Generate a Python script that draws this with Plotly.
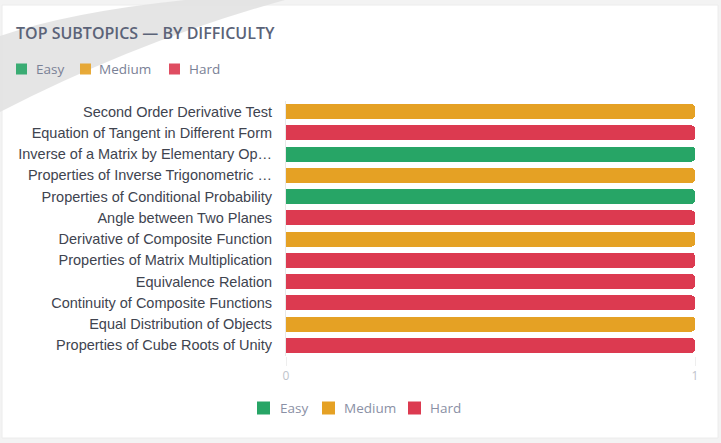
import plotly.graph_objects as go

# ---- data ----
subtopics = [
    "Second Order Derivative Test",
    "Equation of Tangent in Different Form",
    "Inverse of a Matrix by Elementary Op…",
    "Properties of Inverse Trigonometric …",
    "Properties of Conditional Probability",
    "Angle between Two Planes",
    "Derivative of Composite Function",
    "Properties of Matrix Multiplication",
    "Equivalence Relation",
    "Continuity of Composite Functions",
    "Equal Distribution of Objects",
    "Properties of Cube Roots of Unity",
]
difficulty = ["Medium", "Hard", "Easy", "Medium", "Easy", "Hard",
              "Medium", "Hard", "Hard", "Hard", "Medium", "Hard"]
counts = [1, 1, 1, 1, 1, 1, 1, 1, 1, 1, 1, 1]
levels = ["Easy", "Medium", "Hard"]
level_colors = {"Easy": "#27a566", "Medium": "#e5a124", "Hard": "#dc3a50"}
x_ticks = [0, 1]

W, H = 721, 443
L, R, T, B = 286, 26, 101, 87
PW, PH = W - L - R, H - T - B


def px(xp):
    return (xp - L) / PW


def py(yp):
    return (H - B - yp) / PH


fig = go.Figure()
for lvl in levels:
    ys = [s for s, d in zip(subtopics, difficulty) if d == lvl]
    xs = [c for c, d in zip(counts, difficulty) if d == lvl]
    fig.add_trace(go.Bar(
        y=ys, x=xs, name=lvl, orientation="h",
        marker=dict(color=level_colors[lvl], line=dict(width=0)),
        hoverinfo="y+x", showlegend=False,
    ))

shapes = []
# card
shapes.append(dict(type="rect", xref="paper", yref="paper", layer="below",
                   x0=px(2), x1=px(718), y0=py(5), y1=py(438),
                   fillcolor="white", line=dict(color="#ececec", width=1)))
# grey swoosh
sw = (f"M {px(185)},{py(0)} Q {px(70)},{py(12)} {px(0)},{py(36)} "
      f"L {px(0)},{py(112)} Q {px(140)},{py(40)} {px(285)},{py(0)} Z")
shapes.append(dict(type="path", xref="paper", yref="paper", layer="below",
                   path=sw, fillcolor="#e2e2e2", line=dict(width=0), opacity=0.9))

annotations = [dict(
    text="TOP SUBTOPICS — BY DIFFICULTY", xref="paper", yref="paper",
    x=px(14), y=py(33), xanchor="left", yanchor="middle", showarrow=False,
    font=dict(family="Open Sans", size=16, color="#5b6378", weight=600),
)]

# top legend (HTML-like)
top_leg = [("Easy", 16, 34), ("Medium", 80, 97), ("Hard", 169, 187)]
for lvl, sx, tx in top_leg:
    shapes.append(dict(type="rect", xref="paper", yref="paper",
                       x0=px(sx), x1=px(sx + 11), y0=py(63.5), y1=py(74.5),
                       fillcolor=level_colors[lvl], line=dict(width=0), opacity=0.9))
    annotations.append(dict(text=lvl, xref="paper", yref="paper",
                            x=px(tx), y=py(69), xanchor="left", yanchor="middle",
                            showarrow=False,
                            font=dict(family="Open Sans", size=13.5, color="#7a8196")))

# bottom legend
bot_leg = [("Easy", 257, 278), ("Medium", 322, 342), ("Hard", 408, 428)]
for lvl, sx, tx in bot_leg:
    shapes.append(dict(type="rect", xref="paper", yref="paper",
                       x0=px(sx), x1=px(sx + 13), y0=py(401.5), y1=py(414.5),
                       fillcolor=level_colors[lvl], line=dict(width=0)))
    annotations.append(dict(text=lvl, xref="paper", yref="paper",
                            x=px(tx), y=py(408), xanchor="left", yanchor="middle",
                            showarrow=False,
                            font=dict(family="Open Sans", size=13.5, color="#8a90a5")))

fig.update_layout(
    width=W, height=H,
    margin=dict(l=L, r=R, t=T, b=B),
    paper_bgcolor="#f3f3f3",
    plot_bgcolor="rgba(0,0,0,0)",
    barmode="stack",
    bargap=0.29,
    barcornerradius=4,
    shapes=shapes,
    annotations=annotations,
    showlegend=False,
    xaxis=dict(range=[0, 1], tickvals=x_ticks, showgrid=False, zeroline=False,
               showline=False, ticks="outside", ticklen=9, tickcolor="#eeeeee",
               tickfont=dict(family="Open Sans", size=12, color="#c0c4cb"),
               fixedrange=True),
    yaxis=dict(categoryorder="array", categoryarray=subtopics, autorange="reversed",
               showgrid=False, zeroline=False, showline=True, linecolor="#e8e8e8",
               ticks="", ticklabelstandoff=10,
               tickfont=dict(family="Liberation Sans", size=14.5, color="#40444f"),
               fixedrange=True),
    font=dict(family="Open Sans"),
)

fig.write_html("out.html", config={"displayModeBar": False},
               post_script="document.body.style.margin='0';document.body.style.overflow='hidden';")
